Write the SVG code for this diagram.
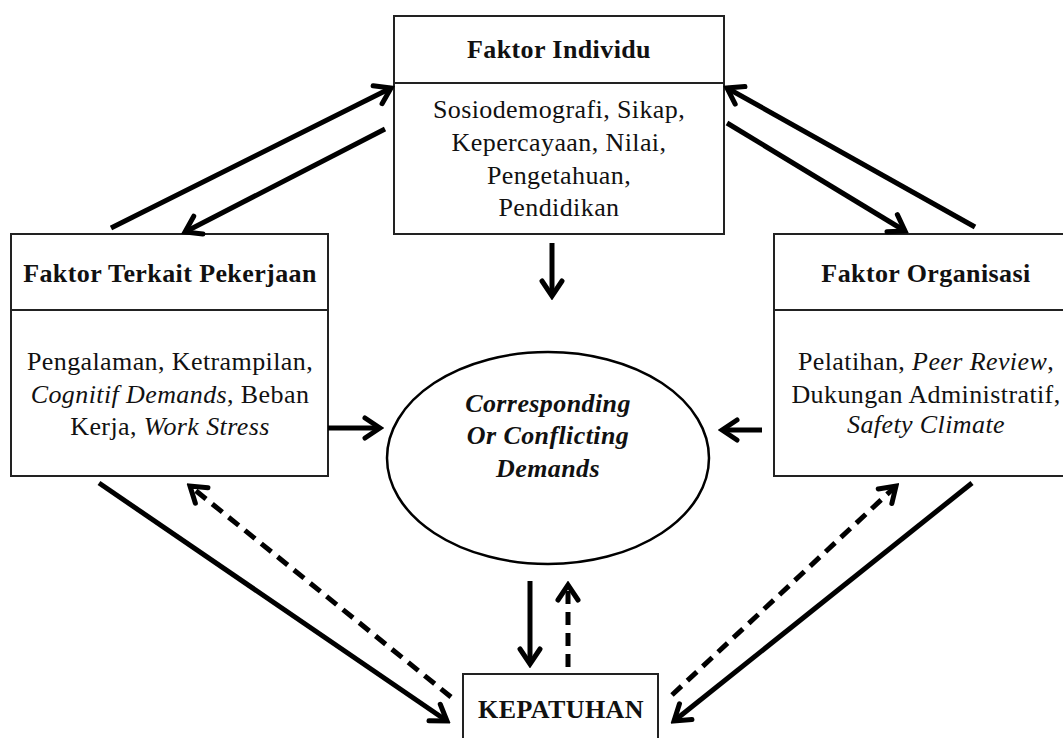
<svg xmlns="http://www.w3.org/2000/svg" width="1063" height="738" viewBox="0 0 1063 738">
<defs>
<style>
.box{fill:#fff;stroke:#222;stroke-width:2}
.t{font-family:"Liberation Serif","Times New Roman",serif;font-size:26px;letter-spacing:0.4px;fill:#111;text-anchor:middle}
.b{font-weight:bold}
.i{font-style:italic}
.c{fill:none;stroke:#000;stroke-width:5}
.d{stroke-dasharray:13 8}
</style>
<marker id="ah" viewBox="-20 -14 24 28" refX="0" refY="0" markerWidth="24" markerHeight="28" markerUnits="userSpaceOnUse" orient="auto">
<path d="M-15,-10 L0,0 L-15,10" fill="none" stroke="#000" stroke-width="5" stroke-dasharray="none" stroke-linecap="round"/>
</marker>
</defs>
<rect width="1063" height="738" fill="#fff"/>

<g id="faktor-individu">
<rect class="box" x="394" y="16" width="330" height="218"/>
<line x1="394" y1="83" x2="724" y2="83" stroke="#222" stroke-width="2"/>
<text class="t b" x="559" y="58">Faktor Individu</text>
<text class="t" x="559" y="118">Sosiodemografi, Sikap,</text>
<text class="t" x="559" y="151">Kepercayaan, Nilai,</text>
<text class="t" x="559" y="184">Pengetahuan,</text>
<text class="t" x="559" y="216">Pendidikan</text>
</g>

<g id="faktor-pekerjaan">
<rect class="box" x="11" y="234" width="317" height="242"/>
<line x1="11" y1="310" x2="328" y2="310" stroke="#222" stroke-width="2"/>
<text class="t b" x="170" y="282">Faktor Terkait Pekerjaan</text>
<text class="t" x="170" y="370">Pengalaman, Ketrampilan,</text>
<text class="t" x="170" y="403"><tspan class="i">Cognitif Demands</tspan>, Beban</text>
<text class="t" x="170" y="435">Kerja, <tspan class="i">Work Stress</tspan></text>
</g>

<g id="faktor-organisasi">
<rect class="box" x="774" y="234" width="304" height="242"/>
<line x1="774" y1="310" x2="1078" y2="310" stroke="#222" stroke-width="2"/>
<text class="t b" x="926" y="282">Faktor Organisasi</text>
<text class="t" x="926" y="370">Pelatihan, <tspan class="i">Peer Review</tspan>,</text>
<text class="t" x="926" y="403">Dukungan Administratif,</text>
<text class="t i" x="926" y="433">Safety Climate</text>
</g>

<g id="demands">
<ellipse cx="548" cy="458" rx="161" ry="106" fill="#fff" stroke="#000" stroke-width="2.5"/>
<text class="t b i" x="548" y="412">Corresponding</text>
<text class="t b i" x="548" y="444">Or Conflicting</text>
<text class="t b i" x="548" y="477">Demands</text>
</g>

<g id="kepatuhan">
<rect class="box" x="463" y="674" width="195" height="80"/>
<text class="t b" x="561" y="718">KEPATUHAN</text>
</g>

<g id="connectors">
<line class="c" x1="111" y1="228" x2="391" y2="88" marker-end="url(#ah)"/>
<line class="c" x1="385" y1="129" x2="185" y2="232" marker-end="url(#ah)"/>
<line class="c" x1="975" y1="227" x2="727" y2="88" marker-end="url(#ah)"/>
<line class="c" x1="727" y1="123" x2="905" y2="231" marker-end="url(#ah)"/>
<line class="c" x1="552" y1="243" x2="552" y2="296" marker-end="url(#ah)"/>
<line class="c" x1="328" y1="428" x2="380" y2="428" marker-end="url(#ah)"/>
<line class="c" x1="762" y1="430" x2="722" y2="430" marker-end="url(#ah)"/>
<line class="c" x1="530" y1="581" x2="530" y2="664" marker-end="url(#ah)"/>
<line class="c d" x1="568" y1="667" x2="568" y2="585" marker-end="url(#ah)"/>
<line class="c" x1="99" y1="483" x2="447" y2="721" marker-end="url(#ah)"/>
<line class="c d" x1="451" y1="697" x2="190" y2="486" marker-end="url(#ah)"/>
<line class="c d" x1="672" y1="695" x2="896" y2="486" marker-end="url(#ah)"/>
<line class="c" x1="972" y1="483" x2="674" y2="721" marker-end="url(#ah)"/>
</g>
</svg>
